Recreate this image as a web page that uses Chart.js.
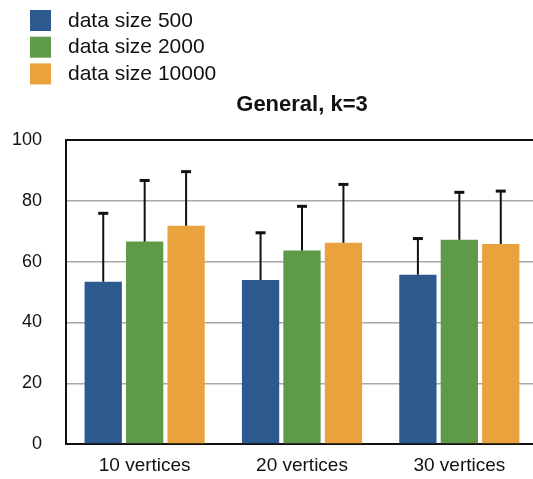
<!DOCTYPE html>
<html>
<head>
<meta charset="utf-8">
<script src="https://cdn.jsdelivr.net/npm/chart.js@4.4.1/dist/chart.umd.min.js"></script>
<style>
    html, body { margin: 0; padding: 0; background: #fff; overflow: hidden; }
    #grafico { display: block; }
</style>
</head>
<body>
<canvas id="grafico" width="540" height="479"></canvas>
<script>
// datos
var categorias = ['10 vertices', '20 vertices', '30 vertices'];
var series = ['data size 500', 'data size 2000', 'data size 10000'];
var valores500 = [53.4, 54.0, 55.7];
var valores2000 = [66.6, 63.7, 67.2];
var valores10000 = [71.8, 66.2, 65.8];
// error superior (solo se dibuja hacia arriba)
var error500 = [22.5, 15.5, 11.9];
var error2000 = [20.1, 14.5, 15.6];
var error10000 = [17.8, 19.2, 17.4];
var ticksY = [0, 20, 40, 60, 80, 100];
var titulo = 'General, k=3';

var colores = ['#2D5A8E', '#5E9A48', '#E9A23C'];
var fuente = 'Liberation Sans, Arial, Helvetica, sans-serif';

// barras de error
const pluginErrores = {
    id: 'errores',
    afterDatasetsDraw: function (chart) {
        var ctx = chart.ctx;
        var escalaY = chart.scales.y;
        ctx.save();
        ctx.strokeStyle = '#111';
        chart.data.datasets.forEach(function (ds, i) {
            var meta = chart.getDatasetMeta(i);
            meta.data.forEach(function (barra, j) {
                var yTop = escalaY.getPixelForValue(ds.data[j] + ds.errores[j]);
                ctx.lineWidth = 2;
                ctx.beginPath();
                ctx.moveTo(barra.x, barra.y);
                ctx.lineTo(barra.x, yTop);
                ctx.stroke();
                ctx.lineWidth = 3;
                ctx.beginPath();
                ctx.moveTo(barra.x - 5, yTop);
                ctx.lineTo(barra.x + 5, yTop);
                ctx.stroke();
            });
        });
        ctx.restore();
    }
};

// leyenda vertical arriba a la izquierda y titulo centrado sobre el area
const pluginLeyenda = {
    id: 'leyendaTitulo',
    afterDraw: function (chart) {
        var ctx = chart.ctx;
        ctx.save();
        ctx.textBaseline = 'middle';
        ctx.textAlign = 'left';
        ctx.font = '21px ' + fuente;
        chart.data.datasets.forEach(function (ds, i) {
            var y = 10 + i * 26.7;
            ctx.fillStyle = ds.backgroundColor;
            ctx.fillRect(30, y, 21, 21);
            ctx.fillStyle = '#111';
            ctx.fillText(ds.label, 68, y + 11);
        });
        var area = chart.chartArea;
        ctx.font = 'bold 22px ' + fuente;
        ctx.textAlign = 'center';
        ctx.fillText(titulo, (area.left + area.right) / 2, 105);
        ctx.restore();
    }
};

const grafico = new Chart('grafico', {
    type: 'bar',
    data: {
        labels: categorias,
        datasets: [{
            label: series[0],
            data: valores500,
            errores: error500,
            backgroundColor: colores[0]
        }, {
            label: series[1],
            data: valores2000,
            errores: error2000,
            backgroundColor: colores[1]
        }, {
            label: series[2],
            data: valores10000,
            errores: error10000,
            backgroundColor: colores[2]
        }]
    },
    options: {
        responsive: false,
        animation: false,
        categoryPercentage: 0.79,
        barPercentage: 0.9,
        layout: {
            padding: { top: 140, left: 12, right: 2, bottom: 2 }
        },
        plugins: {
            legend: { display: false },
            title: { display: false },
            tooltip: { enabled: false }
        },
        scales: {
            x: {
                afterFit: function (escala) { escala.height = 29; },
                grid: { display: false, drawTicks: false },
                border: { display: true, color: '#111', width: 2 },
                ticks: {
                    color: '#111',
                    padding: 10,
                    font: { family: fuente, size: 19 }
                }
            },
            y: {
                min: 0,
                max: 100,
                afterFit: function (escala) { escala.width = 54; },
                afterBuildTicks: function (escala) {
                    escala.ticks = ticksY.map(function (v) { return { value: v }; });
                },
                grid: {
                    drawTicks: false,
                    color: function (c) {
                        return (c.tick.value === 0 || c.tick.value === 100) ? '#111' : '#A8A8A8';
                    },
                    lineWidth: function (c) {
                        return (c.tick.value === 0 || c.tick.value === 100) ? 2 : 1.5;
                    }
                },
                border: { display: true, color: '#111', width: 2 },
                ticks: {
                    color: '#111',
                    padding: 24,
                    font: { family: fuente, size: 18 }
                }
            }
        }
    },
    plugins: [pluginErrores, pluginLeyenda]
});
</script>
</body>
</html>
